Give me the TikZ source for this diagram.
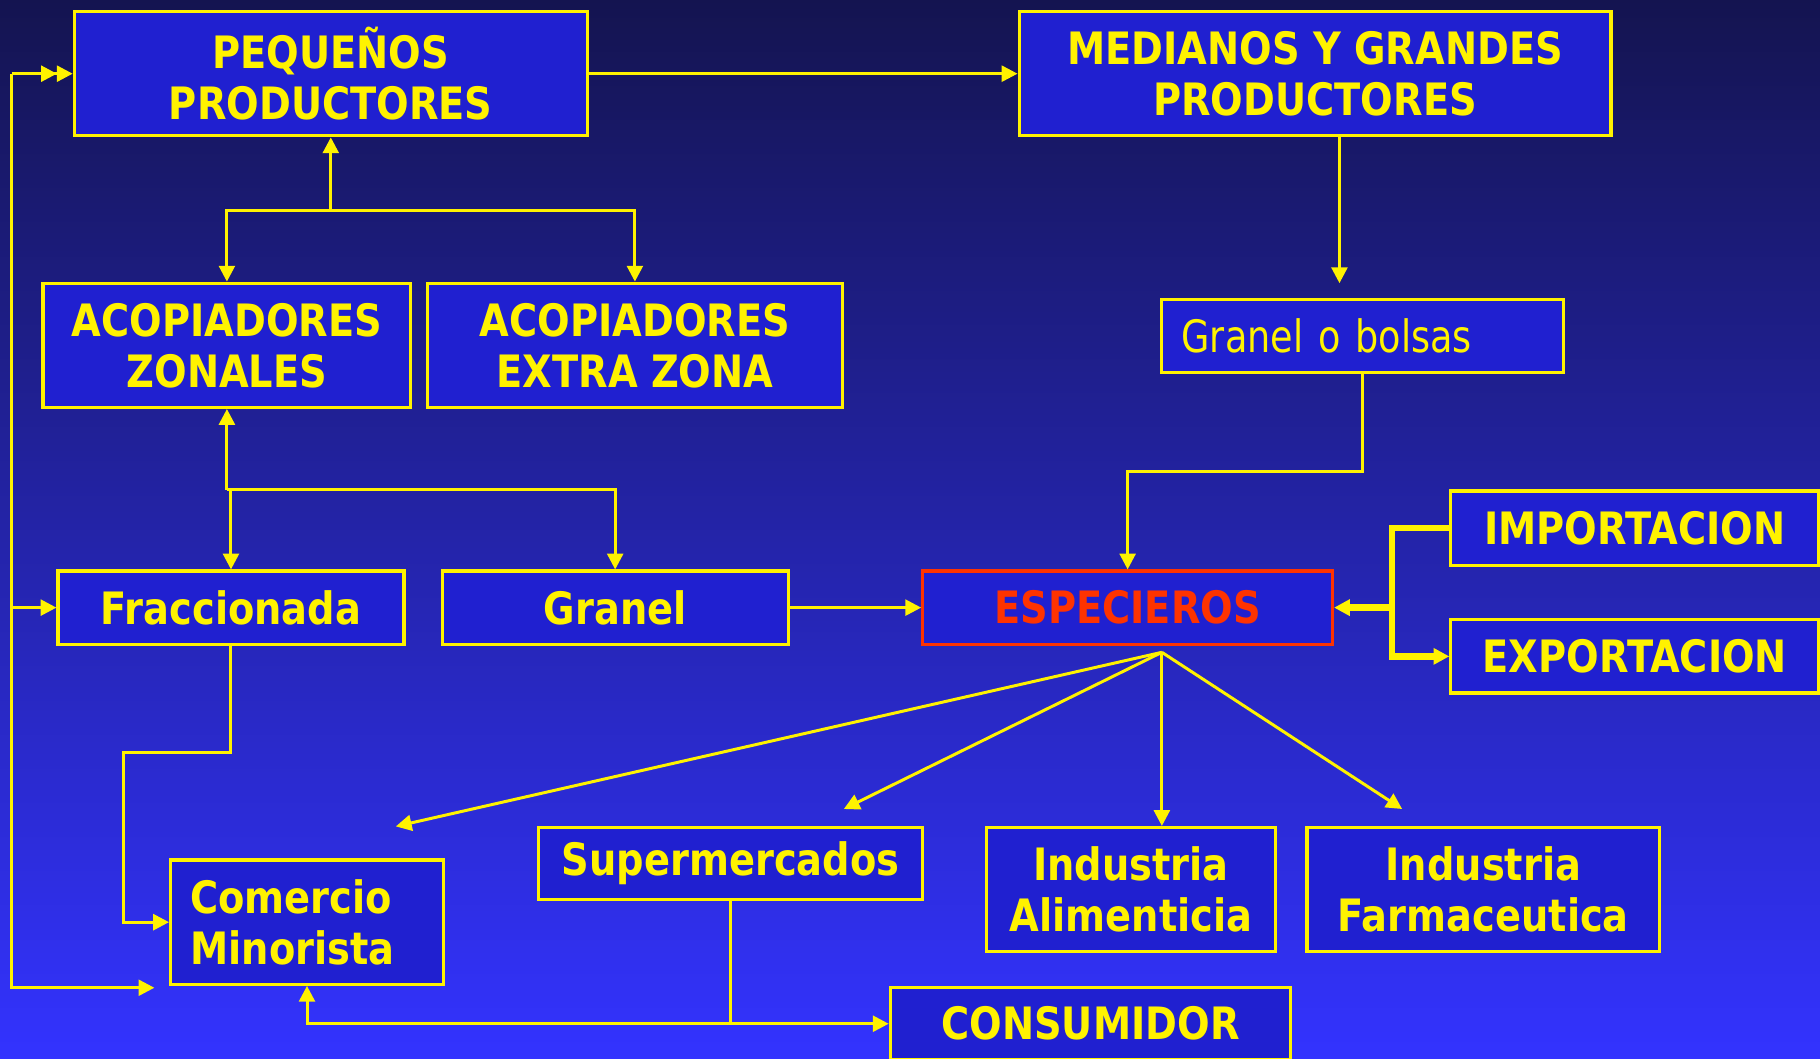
\documentclass[tikz,border=0pt]{standalone}
\usepackage{fontspec}
\setmainfont{DejaVu Sans}[FakeStretch=0.86]
\newfontfamily\narrowfont{DejaVu Sans}[FakeStretch=0.82]
\usetikzlibrary{arrows.meta}
\definecolor{bgtop}{HTML}{141450}
\definecolor{bgbot}{HTML}{3333FF}
\definecolor{boxblue}{HTML}{2020D0}
\definecolor{espred}{HTML}{FF3300}
\newcommand{\pu}{0.011607cm}

\begin{document}
\begin{tikzpicture}[x=\pu, y=-\pu, >={Triangle[length=4.5pt,width=4.5pt]},
	box/.style={draw=yellow, line width=0.9pt, fill=boxblue, text=yellow, inner sep=0pt, align=center, font=\fontsize{12.7}{14.5}\selectfont\bfseries},
	sz/.style 2 args={minimum width=#1*\pu, minimum height=#2*\pu},
	link/.style={yellow, line width=0.85pt},
	thicklink/.style={yellow, line width=1.8pt}]
	% Background
	\shade[top color=bgtop, bottom color=bgbot] (0,0) rectangle (1568,912);
	\useasboundingbox (0,0) rectangle (1568,912);
	
	% Boxes
	\node[box, sz={442}{107}] (peq) at (285,63.5) {PEQUEÑOS\\PRODUCTORES};
	\node[box, sz={510}{107}] (med) at (1133,63.5) {MEDIANOS Y GRANDES\\PRODUCTORES};
	\node[box, sz={317}{107}] (acz) at (195.5,297.5) {ACOPIADORES\\ZONALES};
	\node[box, sz={358}{107}] (ace) at (547,297.5) {ACOPIADORES\\EXTRA ZONA};
	\node[box, sz={346}{63}, font=\fontsize{12.7}{14.5}\selectfont\narrowfont, align=left, text width=312*\pu] (gob) at (1174,289.5) {Granel o bolsas};
	\node[box, sz={298}{63}] (frac) at (199,523.5) {Fraccionada};
	\node[box, sz={298}{63}] (gran) at (530,523.5) {Granel};
	\node[box, sz={353}{63}, draw=espred, text=espred] (esp) at (971.5,523.5) {ESPECIEROS};
	\node[box, sz={317}{64}] (imp) at (1408.5,455) {IMPORTACION};
	\node[box, sz={317}{63}] (exp) at (1408.5,565.5) {EXPORTACION};
	\node[box, sz={331}{62}] (super) at (629.5,744) {Supermercados};
	\node[box, sz={249}{107}] (ialim) at (974.5,766.5) {Industria\\Alimenticia};
	\node[box, sz={304}{107}] (ifarm) at (1278,766.5) {Industria\\Farmaceutica};
	\node[box, sz={235}{107}, align=left, text width=201*\pu] (com) at (264.5,794.5) {Comercio\\Minorista};
	\node[box, sz={345}{62}] (cons) at (939.5,882) {CONSUMIDOR};
	
	% Junctions and free ends
	\coordinate (l1) at (10,63.5);
	\coordinate (lb) at (10,851);
	\coordinate (le) at (133,851);
	\coordinate (j1) at (285,181);
	\coordinate (j2) at (195.5,422);
	\coordinate (m2) at (1154,244);
	\coordinate (j3) at (1174,406);
	\coordinate (j4) at (1199,523.5);
	\coordinate (e0) at (1001,562);
	\coordinate (t1) at (341,712);
	\coordinate (t2) at (727,697);
	\coordinate (t4) at (1208,697);
	\coordinate (f1) at (106,648);
	\coordinate (s1) at (629.5,882);
	
	% Top row
	\draw[link,->] (peq.east) -- (med.west);
	\draw[link,->>] (l1) -- (peq.west);
	\draw[link,->] (l1) -- (lb) -- (le);
	\draw[link,->] (l1 |- frac.west) -- (frac.west);
	\draw[link,->] (j1) -- (peq.south);
	\draw[link,->] (j1) -| (acz.north);
	\draw[link,->] (j1) -| (ace.north);
	\draw[link,->] (med.south -| m2) -- (m2);
	
	% Middle row
	\draw[link,->] (j2) -- (acz.south);
	\draw[link,->] (j2) -| (frac.north);
	\draw[link,->] (j2) -| (gran.north);
	\draw[link,->] (gob.south) -- (j3) -| (esp.north);
	\draw[link,->] (gran.east) -- (esp.west);
	\draw[thicklink,->] (imp.west) -| (j4) -- (esp.east);
	\draw[thicklink,->] (j4) |- (exp.west);
	
	% Bottom row
	\draw[link,->] (e0) -- (t1);
	\draw[link,->] (e0) -- (t2);
	\draw[link,->] (e0) -- (e0 |- ialim.north);
	\draw[link,->] (e0) -- (t4);
	\draw[link,->] (frac.south) |- (f1) |- (com.west);
	\draw[link] (super.south) -- (s1);
	\draw[link,->] (s1) -| (com.south);
	\draw[link,->] (s1) -- (cons.west);
\end{tikzpicture}
\end{document}
